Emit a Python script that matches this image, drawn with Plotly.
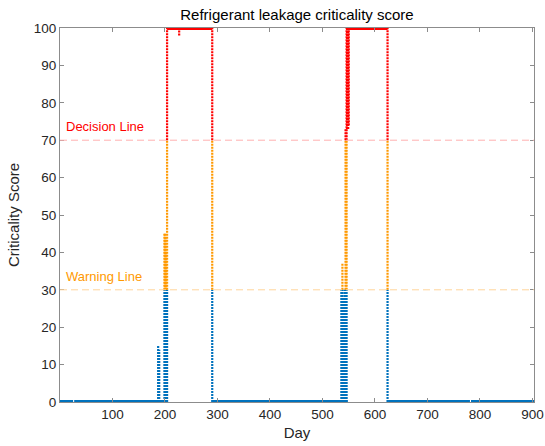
import plotly.graph_objects as go

# ---------------- data ----------------
# day ranges where the score sits at 0
zero_start = [0, 27, 291, 625, 783]
zero_end = [25, 201, 548, 781, 904]
# day ranges where the score sits at 100
full_start = [204, 549]
full_end = [290, 624]
# dense vertical runs of samples on a given day (from low to high score)
col_day = [187, 189, 199, 200, 201, 202, 204, 227, 290,
           536, 538, 540, 542, 544, 546, 547, 548, 549, 550, 624]
col_low = [0, 0, 0, 8, 0, 0, 0, 98, 0,
           0, 0, 0, 0, 0, 0, 73, 73, 73, 74, 0]
col_high = [15, 14, 45, 45, 44, 40, 100, 99.5, 100,
            30, 37, 28, 30, 73, 100, 100, 100, 100, 100, 100]

warning_level = 30
decision_level = 70

BLUE = "#0072BD"
ORANGE = "#FF9900"
RED = "#FF0000"

fig = go.Figure()

# baseline (score 0)
bx, by = [], []
for s, e in zip(zero_start, zero_end):
    bx += [s, e, None]
    by += [0, 0, None]
fig.add_trace(go.Scatter(x=bx, y=by, mode="lines",
                         line=dict(color=BLUE, width=4), hoverinfo="skip",
                         showlegend=False))

# plateau (score 100)
px_, py_ = [], []
for s, e in zip(full_start, full_end):
    px_ += [s, e, None]
    py_ += [100, 100, None]
fig.add_trace(go.Scatter(x=px_, y=py_, mode="lines",
                         line=dict(color=RED, width=4), hoverinfo="skip",
                         showlegend=False))

# vertical dotted runs, coloured by level band
bands = [(0, warning_level, BLUE), (warning_level, decision_level, ORANGE),
         (decision_level, 100, RED)]
for lo_b, hi_b, colr in bands:
    xs, ys = [], []
    for d, lo, hi in zip(col_day, col_low, col_high):
        a = max(lo, lo_b)
        b = min(hi, hi_b)
        if b > a:
            xs += [d, d, None]
            ys += [a, b, None]
    fig.add_trace(go.Scatter(x=xs, y=ys, mode="lines",
                             line=dict(color=colr, width=2.2, dash="2px,1px"),
                             hoverinfo="skip", showlegend=False))

# threshold lines
fig.add_shape(type="line", xref="paper", x0=0, x1=1, yref="y",
              y0=decision_level, y1=decision_level,
              line=dict(color="#FFB0B0", width=1, dash="7px,4px"))
fig.add_shape(type="line", xref="paper", x0=0, x1=1, yref="y",
              y0=warning_level, y1=warning_level,
              line=dict(color="#FFD49A", width=1, dash="7px,4px"))

fig.add_annotation(x=8, y=decision_level + 1.0, text="Decision Line",
                   showarrow=False, xanchor="left", yanchor="bottom",
                   font=dict(color=RED, size=13))
fig.add_annotation(x=8, y=warning_level + 1.0, text="Warning Line",
                   showarrow=False, xanchor="left", yanchor="bottom",
                   font=dict(color=ORANGE, size=13))

axis_common = dict(showgrid=False, zeroline=False, showline=True,
                   linecolor="#8C8C8C", linewidth=1, mirror="ticks",
                   ticks="inside", ticklen=4, tickcolor="#8C8C8C",
                   automargin=False,
                   tickfont=dict(size=13.5, color="#262626"))

fig.update_xaxes(range=[0, 903], tickvals=[100, 200, 300, 400, 500, 600, 700, 800, 900],
                 title=dict(text="Day", font=dict(size=15, color="#262626"), standoff=6),
                 **axis_common)
fig.update_yaxes(range=[0, 100], tickvals=list(range(0, 101, 10)),
                 title=dict(text="Criticality Score", font=dict(size=15, color="#262626"),
                            standoff=10),
                 **axis_common)

fig.update_layout(
    width=545, height=446,
    margin=dict(l=60, r=11, t=28, b=44),
    paper_bgcolor="white", plot_bgcolor="white",
    font=dict(family="Liberation Sans, Arial, sans-serif", color="#262626"),
    title=dict(text="Refrigerant leakage criticality score", x=0.5, xref="paper",
               xanchor="center", y=1 - 15 / 446, yanchor="middle",
               font=dict(size=15, color="#000000")),
)

fig.write_html("out.html")
